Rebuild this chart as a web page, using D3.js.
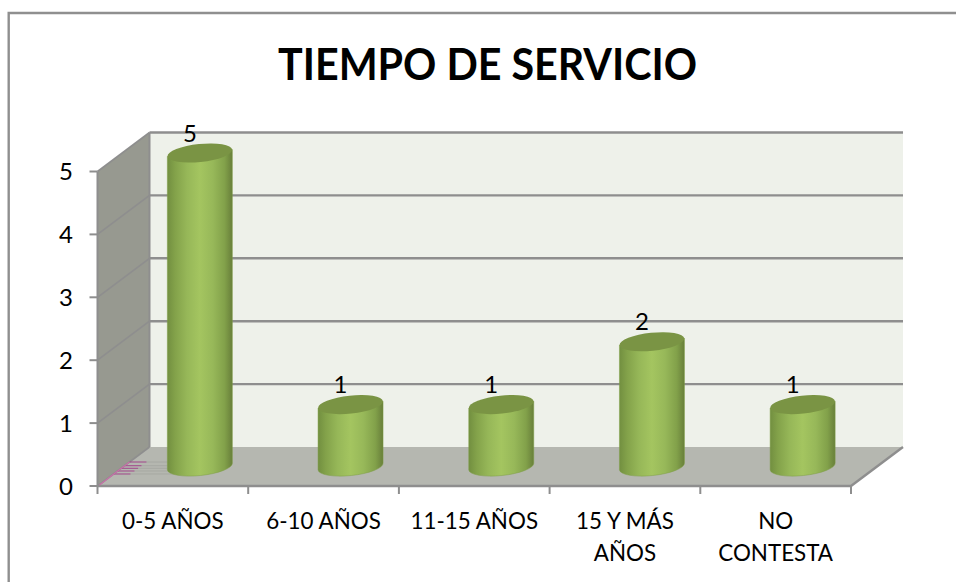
<!DOCTYPE html>
<html><head><meta charset="utf-8">
<script src="https://cdn.jsdelivr.net/npm/d3@7"></script>
<style>html,body{margin:0;padding:0;background:#fff}svg{display:block}text{font-family:Lato,"Open Sans",sans-serif;fill:#000}</style>
</head><body><svg id="c" width="956" height="582"></svg>
<script>
const categories = [["0-5 AÑOS"],["6-10 AÑOS"],["11-15 AÑOS"],["15 Y MÁS","AÑOS"],["NO","CONTESTA"]];
const values = [5,1,1,2,1];
const yTicks = [0,1,2,3,4,5];
const titleText = "TIEMPO DE SERVICIO";

const svg = d3.select("#c");
const depthX = 52, depthY = -39;
const x = d3.scaleBand().domain(d3.range(categories.length)).range([97.5,851]);
const y = d3.scaleLinear().domain([0,5]).range([486,171.5]);
const grid = "#8e8e8e";

const defs = svg.append("defs");
const g = defs.append("linearGradient").attr("id","cyl");
[[0,"#728f40"],[0.12,"#83a24a"],[0.3,"#96b758"],[0.5,"#a4c560"],[0.7,"#97b859"],[0.88,"#82a14a"],[1,"#687f3a"]]
  .forEach(([o,c])=>g.append("stop").attr("offset",o).attr("stop-color",c));

// frame: left and top edges only
svg.append("path").attr("d","M8.7,582V13H956").attr("fill","none").attr("stroke","#8f8f8f").attr("stroke-width",2.4);

// walls
const x0=x.range()[0], x1=x.range()[1], yB=y(0), yT=y(5);
svg.append("path").attr("d",`M${x0+depthX},${yB+depthY}H${x1+depthX}V${yT+depthY}H${x0+depthX}Z`).attr("fill","#eef1ea");
svg.append("path").attr("d",`M${x0},${yB}L${x0+depthX},${yB+depthY}V${yT+depthY}L${x0},${yT}Z`).attr("fill","#979990");
svg.append("path").attr("d",`M${x0},${yB}L${x0+depthX},${yB+depthY}H${x1+depthX}L${x1},${yB}Z`).attr("fill","#b5b7b0");

// gridlines
yTicks.forEach(t=>{
  svg.append("path").attr("fill","none").attr("stroke",grid).attr("stroke-width",t===0?0:2.4)
    .attr("d",`M${x0+depthX},${y(t)+depthY}H${x1+depthX}`);
  svg.append("path").attr("fill","none").attr("stroke",grid).attr("stroke-width",1.6)
    .attr("d",`M${x0},${y(t)}L${x0+depthX},${y(t)+depthY}`);
});
svg.append("path").attr("fill","none").attr("stroke",grid).attr("stroke-width",2.4)
  .attr("d",`M${x0},${yB}H${x1}L${x1+depthX},${yB+depthY}`);
svg.append("path").attr("fill","none").attr("stroke",grid).attr("stroke-width",2)
  .attr("d",`M${x0},${yT}V${yB}M${x0+depthX},${yT+depthY}V${yB+depthY}`);

// pink marks on the floor
[0.308,0.385,0.454,0.52,0.615].forEach(f=>{
  const px=x0+depthX*f, py=yB+depthY*f;
  svg.append("line").attr("x1",px+17).attr("y1",py).attr("x2",px+70).attr("y2",py)
    .attr("stroke","#a6a8a2").attr("stroke-width",1);
  svg.append("line").attr("x1",px).attr("y1",py).attr("x2",px+17).attr("y2",py)
    .attr("stroke","#a0458a").attr("stroke-width",1);
});
svg.append("line").attr("x1",x0+2).attr("y1",yB-1).attr("x2",x0+depthX*0.615).attr("y2",yB+depthY*0.615)
  .attr("stroke","#c870a8").attr("stroke-width",1.2);

// ticks
yTicks.forEach(t=>{
  svg.append("line").attr("x1",x0-8).attr("x2",x0).attr("y1",y(t)).attr("y2",y(t)).attr("stroke",grid).attr("stroke-width",2);
  svg.append("text").attr("x",73).attr("y",y(t)).attr("dy","0.36em").attr("font-size",24).attr("text-anchor","end").text(t);
});
d3.range(categories.length+1).forEach(i=>{
  const px = i<categories.length ? x(i) : x1;
  svg.append("line").attr("x1",px).attr("x2",px).attr("y1",yB).attr("y2",yB+8).attr("stroke",grid).attr("stroke-width",2);
});

// cylinders
const rx=32.5, ry=9, tilt=-6;
values.forEach((v,i)=>{
  const cx=x(i)+x.bandwidth()/2+depthX/2+1, yb=y(0)+depthY/2, yt=y(v)+depthY/2+1;
  const G=svg.append("g");
  const dy=rx*Math.sin(tilt*Math.PI/180);
  const a=`${cx-rx},${yb-dy}`, b=`${cx+rx},${yb+dy}`;
  G.append("path").attr("fill","url(#cyl)").attr("stroke","#7f9e47").attr("stroke-width",.5)
   .attr("d",`M${cx-rx},${yt-dy}L${a}A${rx},${ry} ${tilt} 0 0 ${b}L${cx+rx},${yt+dy}Z`);
  G.append("ellipse").attr("cx",cx).attr("cy",yt).attr("rx",rx).attr("ry",ry)
   .attr("transform",`rotate(${tilt} ${cx} ${yt})`).attr("fill","#7a9444");
  G.append("text").attr("x",cx-10).attr("y",yt-20).attr("dy","0.36em").attr("font-size",24).attr("text-anchor","middle").text(v);
});

// category labels
categories.forEach((c,i)=>{
  const cx=x(i)+x.bandwidth()/2;
  c.forEach((ln,k)=>svg.append("text").attr("x",cx).attr("y",529+k*32).attr("font-size",22.4).attr("text-anchor","middle").text(ln));
});

svg.append("text").attr("x",487.5).attr("y",80).attr("font-size",43).attr("font-weight",700).attr("text-anchor","middle")
  .attr("textLength",419).attr("lengthAdjust","spacingAndGlyphs").text(titleText);
</script></body></html>
